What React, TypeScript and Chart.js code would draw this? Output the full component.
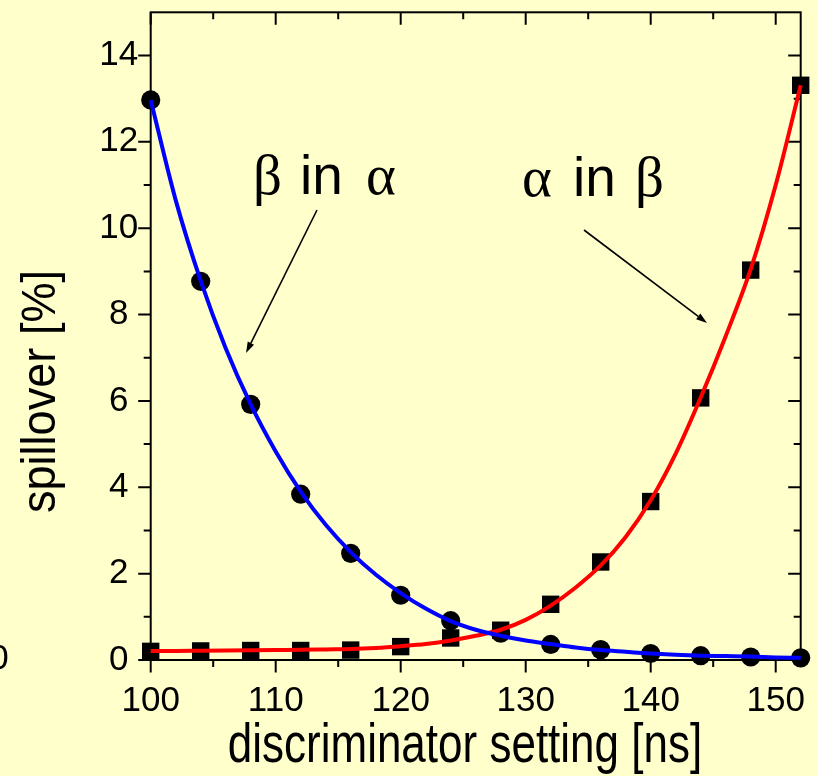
import React, { useEffect, useRef } from "react";
import { Chart, registerables } from "chart.js";

Chart.register(...registerables);

// ---- data ----
const xTicks = [100, 110, 120, 130, 140, 150];
const xMinorTicks = [105, 115, 125, 135, 145];
const yTicks = [0, 2, 4, 6, 8, 10, 12, 14];
const yMinorTicks = [1, 3, 5, 7, 9, 11, 13];

const measX = [100, 104, 108, 112, 116, 120, 124, 128, 132, 136, 140, 144, 148, 152];
const betaInAlpha = [12.97, 8.77, 5.92, 3.84, 2.47, 1.5, 0.91, 0.62, 0.36, 0.24, 0.15, 0.1, 0.07, 0.05];
const alphaInBeta = [0.2, 0.21, 0.22, 0.22, 0.23, 0.31, 0.51, 0.69, 1.29, 2.27, 3.67, 6.07, 9.03, 13.31];

const fitX = [100, 102, 104, 106, 108, 110, 112, 114, 116, 118, 120, 122, 124, 126, 128, 130, 132, 134, 136, 138, 140, 142, 144, 146, 148, 150, 152];
const betaFit = [12.97, 10.65, 8.78, 7.22, 5.92, 4.83, 3.9, 3.13, 2.5, 1.98, 1.55, 1.19, 0.9, 0.7, 0.56, 0.45, 0.37, 0.29, 0.23, 0.19, 0.15, 0.12, 0.1, 0.09, 0.08, 0.06, 0.05];
const alphaFit = [0.21, 0.21, 0.215, 0.22, 0.225, 0.23, 0.235, 0.245, 0.255, 0.28, 0.32, 0.37, 0.45, 0.56, 0.7, 0.93, 1.26, 1.68, 2.19, 2.85, 3.7, 4.78, 6.08, 7.5, 9.05, 11.0, 13.31];

const BG = "#FFFFCC";
const SANS = "'Liberation Sans', Arial, Helvetica, sans-serif";
const SERIF = "'Liberation Serif', 'Times New Roman', serif";

const framePlugin = {
  id: "frameAndTicks",
  beforeDraw(chart: any) {
    const ctx = chart.ctx;
    ctx.save();
    ctx.fillStyle = BG;
    ctx.fillRect(0, 0, chart.width, chart.height);
    ctx.restore();
  },
  beforeDatasetsDraw(chart: any) {
    const { ctx, chartArea: a, scales } = chart;
    const xs = scales.x;
    const ys = scales.y;
    ctx.save();
    ctx.strokeStyle = "#000";
    ctx.lineWidth = 2;
    ctx.strokeRect(a.left, a.top, a.right - a.left, a.bottom - a.top);
    const major = 12.5;
    const minor = 7;
    ctx.beginPath();
    const xt = (v: number, len: number) => {
      const px = xs.getPixelForValue(v);
      ctx.moveTo(px, a.bottom);
      ctx.lineTo(px, a.bottom + len);
      ctx.moveTo(px, a.top);
      ctx.lineTo(px, a.top + len);
    };
    const yt = (v: number, len: number) => {
      const py = ys.getPixelForValue(v);
      ctx.moveTo(a.left - len, py);
      ctx.lineTo(a.left, py);
      ctx.moveTo(a.right - len, py);
      ctx.lineTo(a.right, py);
    };
    xTicks.forEach((v) => xt(v, major));
    xMinorTicks.forEach((v) => xt(v, minor));
    yTicks.forEach((v) => yt(v, major));
    yMinorTicks.forEach((v) => yt(v, minor));
    ctx.stroke();
    ctx.restore();
  },
  afterDraw(chart: any) {
    const ctx = chart.ctx;
    ctx.save();
    ctx.fillStyle = "#000";
    ctx.strokeStyle = "#000";

    // stray partial label at far left
    ctx.font = `35px ${SANS}`;
    ctx.textAlign = "right";
    ctx.textBaseline = "middle";
    ctx.fillText("0", 8.6, 659);

    // x axis title (slightly condensed)
    ctx.save();
    ctx.translate(465, 761.5);
    ctx.scale(0.8, 1);
    ctx.font = `55px ${SANS}`;
    ctx.textAlign = "center";
    ctx.textBaseline = "alphabetic";
    ctx.fillText("discriminator setting [ns]", 0, 0);
    ctx.restore();

    // y axis title
    ctx.save();
    ctx.translate(42.5, 391.5);
    ctx.rotate(-Math.PI / 2);
    ctx.scale(0.94, 1);
    ctx.font = `48px ${SANS}`;
    ctx.textAlign = "center";
    ctx.textBaseline = "alphabetic";
    ctx.fillText("spillover [%]", 0, 12.5);
    ctx.restore();

    // annotations
    ctx.textAlign = "left";
    ctx.textBaseline = "alphabetic";
    const greek = `57px ${SERIF}`;
    const latin = `55px ${SANS}`;
    ctx.font = greek;
    ctx.fillText("\u03B2", 253, 193.5);
    ctx.font = latin;
    ctx.fillText("in", 300, 193.5);
    ctx.font = greek;
    ctx.fillText("\u03B1", 366, 193.5);

    ctx.font = greek;
    ctx.fillText("\u03B1", 522, 196);
    ctx.font = latin;
    ctx.fillText("in", 573, 196);
    ctx.font = greek;
    ctx.fillText("\u03B2", 635, 196);

    const arrow = (x1: number, y1: number, x2: number, y2: number) => {
      const ang = Math.atan2(y2 - y1, x2 - x1);
      const L = 11;
      const W = 3.5;
      const bx = x2 - L * Math.cos(ang);
      const by = y2 - L * Math.sin(ang);
      ctx.lineWidth = 1.6;
      ctx.beginPath();
      ctx.moveTo(x1, y1);
      ctx.lineTo(bx, by);
      ctx.stroke();
      ctx.beginPath();
      ctx.moveTo(x2, y2);
      ctx.lineTo(bx - W * Math.sin(ang), by + W * Math.cos(ang));
      ctx.lineTo(bx + W * Math.sin(ang), by - W * Math.cos(ang));
      ctx.closePath();
      ctx.fill();
    };
    arrow(317, 210, 246, 353);
    arrow(584, 230, 707, 323);
    ctx.restore();
  },
};

const zeroPad = (s: any) => {
  s.paddingTop = 0;
  s.paddingBottom = 0;
  s.paddingLeft = 0;
  s.paddingRight = 0;
};

export default function App() {
  const canvasRef = useRef<HTMLCanvasElement | null>(null);

  useEffect(() => {
    if (!canvasRef.current) return;
    const tickFont = { family: SANS, size: 35 };
    const chart = new Chart(canvasRef.current, {
      type: "scatter",
      data: {
        datasets: [
          {
            label: "β in α fit",
            data: fitX.map((x, i) => ({ x, y: betaFit[i] })),
            showLine: true,
            borderColor: "#0000FF",
            backgroundColor: "#0000FF",
            borderWidth: 4,
            pointRadius: 0,
            cubicInterpolationMode: "monotone",
            clip: false,
          },
          {
            label: "α in β fit",
            data: fitX.map((x, i) => ({ x, y: alphaFit[i] })),
            showLine: true,
            borderColor: "#FF0000",
            backgroundColor: "#FF0000",
            borderWidth: 4,
            pointRadius: 0,
            cubicInterpolationMode: "monotone",
            clip: false,
          },
          {
            label: "β in α",
            data: measX.map((x, i) => ({ x, y: betaInAlpha[i] })),
            pointStyle: "circle",
            pointRadius: 9.6,
            backgroundColor: "#000",
            borderColor: "#000",
            borderWidth: 0,
            showLine: false,
            clip: false,
          },
          {
            label: "α in β",
            data: measX.map((x, i) => ({ x, y: alphaInBeta[i] })),
            pointStyle: "rect",
            pointRadius: 12.3,
            backgroundColor: "#000",
            borderColor: "#000",
            borderWidth: 0,
            showLine: false,
            clip: false,
          },
        ],
      },
      options: {
        animation: false,
        responsive: true,
        maintainAspectRatio: false,
        events: [],
        layout: { padding: { top: 10, right: 17.3, left: 0, bottom: 0 } },
        plugins: {
          legend: { display: false },
          tooltip: { enabled: false },
        },
        scales: {
          x: {
            type: "linear",
            min: 100,
            max: 152,
            grid: { display: false, drawTicks: false },
            border: { display: false },
            ticks: { font: tickFont, color: "#000", padding: 20, maxRotation: 0, autoSkip: false },
            afterBuildTicks: (s: any) => {
              s.ticks = xTicks.map((v) => ({ value: v }));
            },
            afterFit: (s: any) => {
              s.height = 116;
              zeroPad(s);
            },
          },
          y: {
            type: "linear",
            min: 0,
            max: 15,
            grid: { display: false, drawTicks: false },
            border: { display: false },
            ticks: {
              font: tickFont,
              color: "#000",
              padding: 12.5,
              crossAlign: "center",
              autoSkip: false,
            },
            afterBuildTicks: (s: any) => {
              s.ticks = yTicks.map((v) => ({ value: v }));
            },
            afterFit: (s: any) => {
              s.width = 150.7;
              zeroPad(s);
            },
          },
        },
      },
      plugins: [framePlugin],
    } as any);
    return () => chart.destroy();
  }, []);

  return (
    <div
      style={{
        position: "absolute",
        left: 0,
        top: 0,
        width: 818,
        height: 776,
        background: BG,
      }}
    >
      <canvas ref={canvasRef} />
    </div>
  );
}
